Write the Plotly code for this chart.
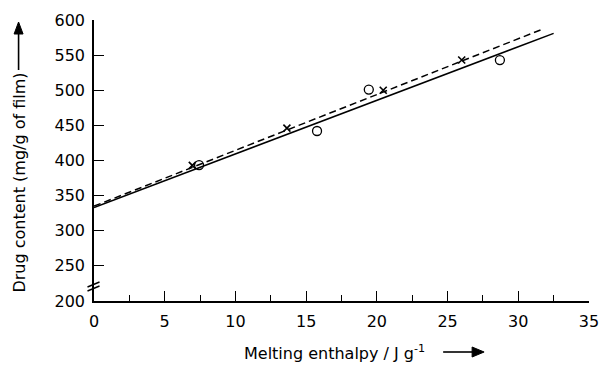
import plotly.graph_objects as go

# Data
circle_x = [7.43, 15.77, 19.43, 28.7]
circle_y = [393.5, 442, 501, 543]
cross_x = [6.95, 13.64, 20.45, 26.0]
cross_y = [393, 446, 500, 543]

solid_fit_x = [0, 32.5]
solid_fit_y = [333, 581]
dashed_fit_x = [0, 31.6]
dashed_fit_y = [335, 586]

x_ticks = [0, 5, 10, 15, 20, 25, 30, 35]
y_ticks = [200, 250, 300, 350, 400, 450, 500, 550, 600]

FONT = "DejaVu Sans, Liberation Sans, Arial, sans-serif"
FS = 16

fig = go.Figure()
fig.add_trace(go.Scatter(x=solid_fit_x, y=solid_fit_y, mode="lines",
                         line=dict(color="black", width=1.5), showlegend=False))
fig.add_trace(go.Scatter(x=dashed_fit_x, y=dashed_fit_y, mode="lines",
                         line=dict(color="black", width=1.5, dash="7px,4px"), showlegend=False))
fig.add_trace(go.Scatter(x=circle_x, y=circle_y, mode="markers",
                         marker=dict(symbol="circle-open", size=9, color="black",
                                     line=dict(width=1.3, color="black")),
                         showlegend=False))
fig.add_trace(go.Scatter(x=cross_x, y=cross_y, mode="markers",
                         marker=dict(symbol="x-thin-open", size=7, color="black",
                                     line=dict(width=1.6, color="black")),
                         showlegend=False))

fig.update_layout(
    width=603, height=365,
    margin=dict(l=93.5, r=14, t=20, b=64, pad=0),
    paper_bgcolor="white", plot_bgcolor="white",
    font=dict(family=FONT, size=FS, color="black"),
    xaxis=dict(range=[0, 35], tickvals=x_ticks, ticks="inside", ticklen=10,
               tickwidth=1.3, tickcolor="black", showline=True, linecolor="black",
               linewidth=1.5, showgrid=False, zeroline=False, automargin=False,
               ticklabelstandoff=5,
               tickfont=dict(family=FONT, size=FS),
               minor=dict(dtick=2.5, ticks="inside", ticklen=6, tickwidth=1.2,
                          tickcolor="black", showgrid=False)),
    yaxis=dict(range=[200, 600], tickvals=y_ticks, ticks="inside", ticklen=10,
               tickwidth=1.3, tickcolor="black", showline=True, linecolor="black",
               linewidth=1.5, showgrid=False, zeroline=False, automargin=False,
               ticklabelstandoff=4,
               tickfont=dict(family=FONT, size=FS)),
)

W = 495.5
H = 281.0
def px2paper(px, py):
    return (px - 93.5) / W, (301 - py) / H

# axis titles
tx, ty = px2paper(18, 183)
fig.add_annotation(x=tx, y=ty, xref="paper", yref="paper", text="Drug content (mg/g of film)",
                   textangle=-90, showarrow=False, font=dict(family=FONT, size=FS),
                   xanchor="center", yanchor="middle")
tx, ty = px2paper(242, 352)
fig.add_annotation(x=tx, y=ty, xref="paper", yref="paper",
                   text="Melting enthalpy / J g<sup>-1</sup>",
                   showarrow=False, font=dict(family=FONT, size=FS),
                   xanchor="left", yanchor="middle")

def line_px(x0, y0, x1, y1, w=1.5):
    a0, b0 = px2paper(x0, y0)
    a1, b1 = px2paper(x1, y1)
    fig.add_shape(type="line", xref="paper", yref="paper", x0=a0, y0=b0, x1=a1, y1=b1,
                  line=dict(color="black", width=w))

def tri_px(pts):
    p = [px2paper(a, b) for a, b in pts]
    path = "M {} {} L {} {} L {} {} Z".format(p[0][0], p[0][1], p[1][0], p[1][1], p[2][0], p[2][1])
    fig.add_shape(type="path", xref="paper", yref="paper", path=path,
                  fillcolor="black", line=dict(color="black", width=1))

# y-title arrow (pointing up)
line_px(18, 70, 18, 32, 1.6)
tri_px([(18, 22), (13.5, 34), (22.5, 34)])
# x-title arrow (pointing right)
line_px(443, 352, 473, 352, 1.6)
tri_px([(484, 352), (472, 347), (472, 357)])

# axis break mark
for off in (0, 4):
    line_px(87, 287 + off, 99, 282 + off, 1.4)

fig.write_html("out.html", config={"displayModeBar": False},
               post_script="document.body.style.margin='0';document.body.style.padding='0';")
